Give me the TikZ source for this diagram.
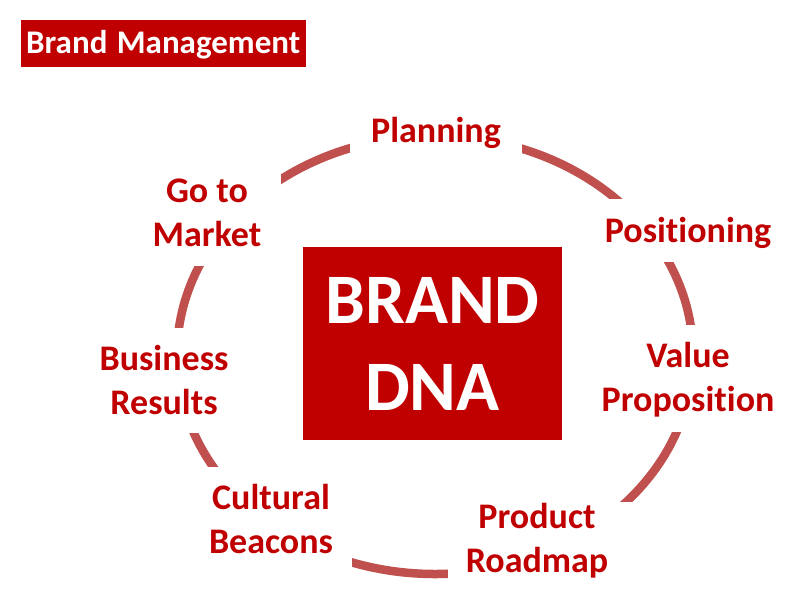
\documentclass[tikz,border=0pt]{standalone}
\usepackage{fontspec}
\setmainfont{Carlito}[Ligatures=NoCommon]
\definecolor{dred}{RGB}{192,0,0}
\definecolor{arcred}{RGB}{192,80,77}
\begin{document}
\begin{tikzpicture}[x=1pt,y=-1pt,
  lbl/.style={text=dred,font=\fontsize{36}{44}\selectfont\bfseries,align=center,anchor=base,inner sep=0pt},
  cover/.style={fill=white}]
\useasboundingbox (0,0) rectangle (794,600);
% ring
\draw[arcred,line width=8.5pt] (435,355) ellipse [x radius=258pt, y radius=219pt];
% gaps for labels
\fill[cover] (350,95) rectangle (522,170);
\fill[cover] (100,160) rectangle (281,266);
\fill[cover] (580,199) rectangle (794,262);
\fill[cover] (580,325) rectangle (794,432);
\fill[cover] (60,328) rectangle (290,433);
\fill[cover] (150,467) rectangle (352,600);
\fill[cover] (448,502) rectangle (700,600);
% title
\node[fill=dred,minimum width=285pt,minimum height=47pt,inner sep=0pt] (title) at (163.5,43.5) {};
\node[text=white,font=\fontsize{33}{39}\selectfont\bfseries,anchor=base west,inner sep=0pt] (titletext) at (26,53) {Brand\hspace{2pt} Management};
% centre
\node[fill=dred,text=white,font=\fontsize{71}{87}\selectfont\bfseries,align=center,
  minimum width=259pt,minimum height=193pt,inner sep=0pt] (dna) at (432.5,343.5) {BRAND\\DNA};
% labels
\node[lbl] (plan) at (436,142) {Planning};
\node[lbl] (gtm) at (207,246) {Go to\\Market};
\node[lbl] (pos) at (688,242) {Positioning};
\node[lbl] (vp) at (688,411) {Value\\Proposition};
\node[lbl] (br) at (164,414) {Business\\Results};
\node[lbl] (cb) at (271,553) {Cultural\\Beacons};
\node[lbl] (pr) at (537,572) {Product\\Roadmap};
\end{tikzpicture}
\end{document}
